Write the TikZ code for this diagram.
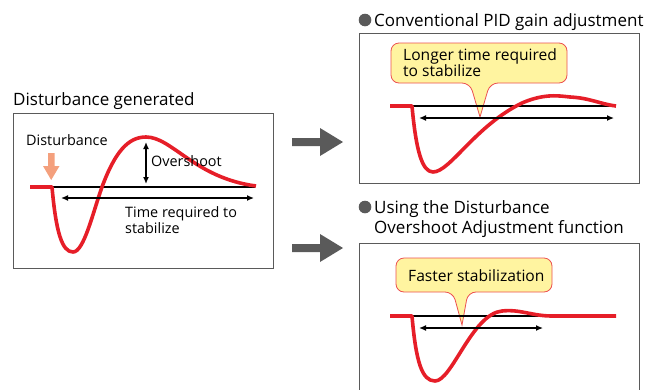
\documentclass[tikz,border=0pt]{standalone}
\usepackage{fontspec}
\setmainfont{Open Sans}
\usetikzlibrary{arrows.meta}

\definecolor{curvered}{RGB}{230,30,40}
\definecolor{panelgray}{RGB}{90,90,90}
\definecolor{salmon}{RGB}{244,160,125}
\definecolor{notefill}{RGB}{255,244,160}
\definecolor{noteline}{RGB}{236,80,80}

\tikzset{
  curve/.style={line width=3.6pt,curvered,line cap=butt,line join=round},
  baseline/.style={line width=1.3pt,black},
  span/.style={line width=1.3pt,{Latex[length=7pt,width=6pt]}-{Latex[length=7pt,width=6pt]}},
  panel/.style={draw=panelgray,line width=0.8pt},
  callout/.style={draw=noteline,fill=notefill,line width=0.8pt},
  heading/.style={anchor=base west,font=\fontsize{17}{20}\selectfont,inner sep=0pt},
  label/.style={anchor=base west,font=\fontsize{14.4}{16}\selectfont,inner sep=0pt},
  note/.style={anchor=base west,font=\fontsize{15.6}{17}\selectfont,inner sep=0pt}
}

\begin{document}
\begin{tikzpicture}[x=1pt,y=-1pt]
\useasboundingbox (0,0) rectangle (656,389);

% disturbance generated
\node[heading] (dtitle) at (13,105) {Disturbance generated};
\draw[panel] (13,113) rectangle (273,268);
\node[label] (dlabel) at (26,145) {Disturbance};
\fill[salmon] (48,153) -- (54.5,153) -- (54.5,166) -- (59.5,166) -- (51.2,180)
  -- (43,166) -- (48,166) -- cycle;
\draw[baseline] (52,187) -- (255,187);
\draw[curve] (30,187) -- (52,187) .. controls (56,232) and (62,252) .. (73,252)
  .. controls (84,252) and (93,212) .. (102,187)
  .. controls (115,152) and (128,137) .. (146,137)
  .. controls (172,137) and (195,178) .. (256,186);
\coordinate (osTop) at (146,142);
\coordinate (osBot) at (146,184);
\draw[span] (osTop) -- (osBot);
\node[label] (oslabel) at (151,166) {Overshoot};
\coordinate (tL) at (61,198);
\coordinate (tR) at (254,198);
\draw[span] (tL) -- (tR);
\node[label] (tlabel) at (125,217) {Time required to};
\node[label] (tlabel2) at (125,233) {stabilize};

% gray arrows
\fill[panelgray] (292,138) -- (320,138) -- (320,128) -- (343,142) -- (320,156)
  -- (320,146) -- (292,146) -- cycle;
\fill[panelgray] (292,244) -- (320,244) -- (320,234) -- (343,248) -- (320,262)
  -- (320,252) -- (292,252) -- cycle;

% conventional PID
\fill[panelgray] (365,20) circle (6.3);
\node[heading] (ptitle) at (374,26) {Conventional PID gain adjustment};
\draw[panel] (359,33) rectangle (639,183);
\draw[callout,rounded corners=8] (480,117) -- (490,83) -- (567,83) -- (567,43)
  -- (391,43) -- (391,83) -- (470,83) [sharp corners] -- cycle;
\node[note] (pnote) at (403,60) {Longer time required};
\node[note] (pnote2) at (403,76) {to stabilize};
\draw[baseline] (412,106) -- (615,106);
\draw[curve] (390,106) -- (412,106) .. controls (416,150) and (422,172) .. (433,172)
  .. controls (450,172) and (475,126) .. (522,103)
  .. controls (545,93) and (560,96) .. (570,97)
  .. controls (590,98) and (600,104) .. (616,106);
\coordinate (pL) at (419,118);
\coordinate (pR) at (614,118);
\draw[span] (pL) -- (pR);

% disturbance overshoot adjustment
\fill[panelgray] (365,207) circle (6.3);
\node[heading] (ftitle) at (374,213) {Using the Disturbance};
\node[heading] (ftitle2) at (374,233) {Overshoot Adjustment function};
\draw[panel] (359,390) -- (359,243) -- (639,243) -- (639,390);
\draw[callout,rounded corners=8] (462,325) -- (468,292) -- (552,292) -- (552,258)
  -- (396,258) -- (396,292) -- (453,292) [sharp corners] -- cycle;
\node[note] (fnote) at (408,281) {Faster stabilization};
\draw[baseline] (412,316) -- (560,316);
\draw[curve] (390,316) -- (412,316) .. controls (416,362) and (422,381) .. (435,381)
  .. controls (452,381) and (472,314) .. (502,311)
  .. controls (520,309) and (532,316) .. (552,316) -- (616,316);
\coordinate (fL) at (419,328);
\coordinate (fR) at (543,328);
\draw[span] (fL) -- (fR);
\end{tikzpicture}
\end{document}
